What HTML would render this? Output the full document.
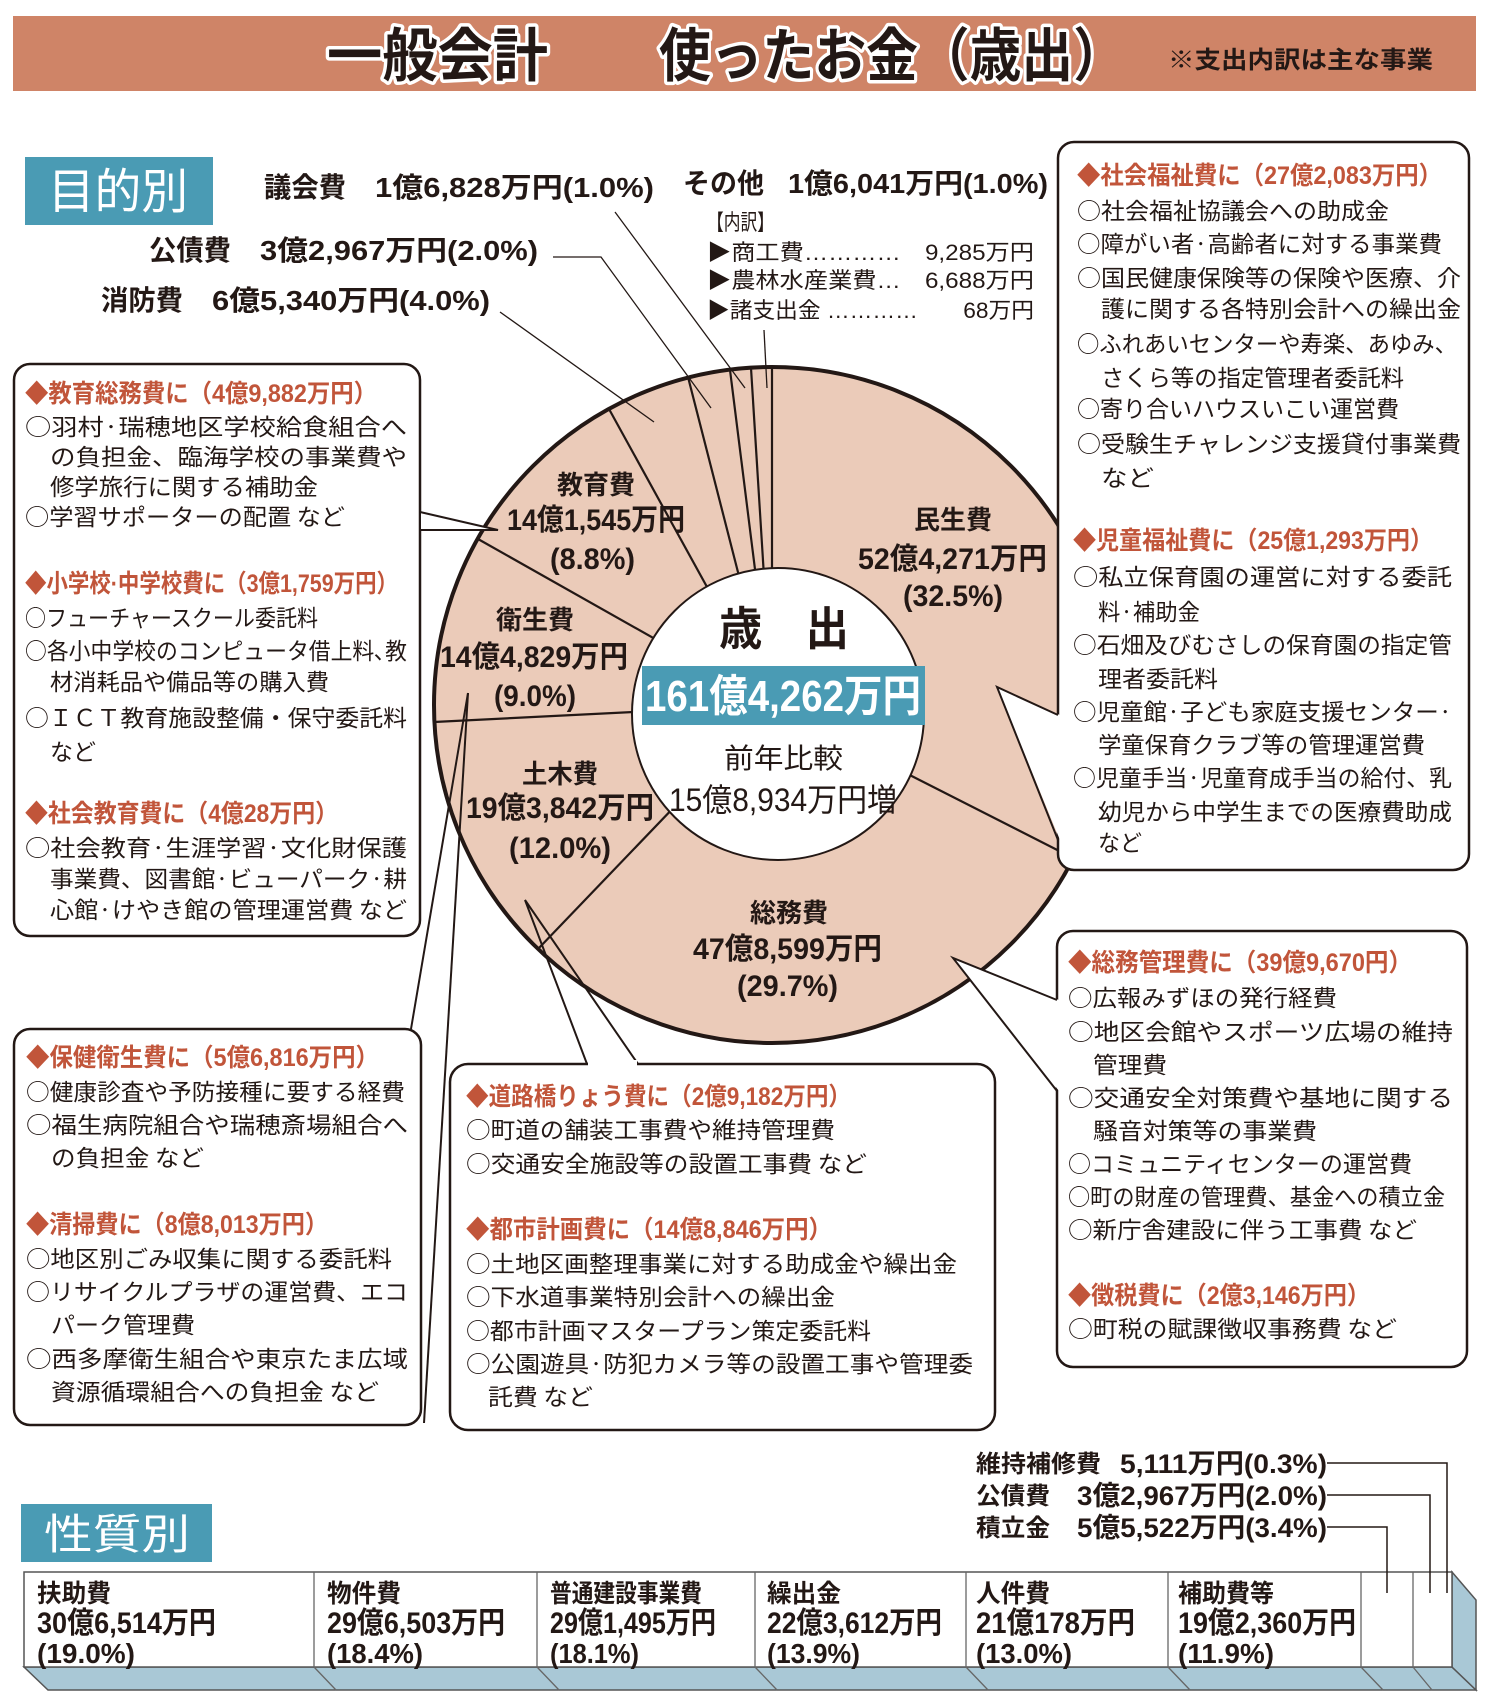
<!DOCTYPE html>
<html><head><meta charset="utf-8"><style>
html,body{margin:0;padding:0;background:#fff}
svg{display:block}
text{font-family:"Liberation Sans","Noto Sans CJK JP",sans-serif;fill:#231815}
.b{font-weight:bold}
.h{fill:#c1553a;font-weight:bold;font-size:25px}
.i,.i text{font-size:23px;font-family:"Noto Sans CJK JP","Liberation Sans",sans-serif}
.w{fill:#fff}
</style></head><body>
<svg width="1500" height="1698" viewBox="0 0 1500 1698" xmlns="http://www.w3.org/2000/svg">
<rect width="1500" height="1698" fill="#fff"/>
<rect x="13" y="16" width="1463" height="75" fill="#cf8467"/>
<g style="paint-order:stroke" stroke="#fff" stroke-width="7" stroke-linejoin="round">
<text x="327" y="76" font-size="58" class="b" textLength="221" lengthAdjust="spacingAndGlyphs">一般会計</text>
<text x="659" y="76" font-size="58" class="b" textLength="466" lengthAdjust="spacingAndGlyphs">使ったお金（歳出）</text>
</g>
<text x="1168" y="68" font-size="24" class="b" textLength="265" lengthAdjust="spacingAndGlyphs">※支出内訳は主な事業</text>

<rect x="25" y="157" width="188" height="68" fill="#4a9bb4"/>
<text x="48" y="208" font-size="48" class="w" textLength="140" lengthAdjust="spacingAndGlyphs">目的別</text>

<g class="b" font-size="28">
<text x="264" y="197" textLength="82" lengthAdjust="spacingAndGlyphs">議会費</text>
<text x="375" y="197" textLength="279" lengthAdjust="spacingAndGlyphs">1億6,828万円(1.0%)</text>
<text x="683" y="193" textLength="81" lengthAdjust="spacingAndGlyphs">その他</text>
<text x="788" y="193" textLength="260" lengthAdjust="spacingAndGlyphs">1億6,041万円(1.0%)</text>
<text x="149" y="260" textLength="82" lengthAdjust="spacingAndGlyphs">公債費</text>
<text x="260" y="260" textLength="278" lengthAdjust="spacingAndGlyphs">3億2,967万円(2.0%)</text>
<text x="101" y="310" textLength="82" lengthAdjust="spacingAndGlyphs">消防費</text>
<text x="212" y="310" textLength="278" lengthAdjust="spacingAndGlyphs">6億5,340万円(4.0%)</text>
</g>
<g font-size="22">
<text x="707" y="230" textLength="67" lengthAdjust="spacingAndGlyphs">【内訳】</text>
<text x="707" y="260" textLength="327" lengthAdjust="spacingAndGlyphs">▶商工費…………　9,285万円</text>
<text x="707" y="288" textLength="327" lengthAdjust="spacingAndGlyphs">▶農林水産業費…　6,688万円</text>
<text x="707" y="318" textLength="327" lengthAdjust="spacingAndGlyphs">▶諸支出金 …………　　68万円</text>
</g>

<circle cx="772" cy="705" r="338" fill="#ebcbb9" stroke="#231815" stroke-width="4"/>
<g stroke="#231815" stroke-width="2.2">
<line x1="772" y1="705" x2="772" y2="367"/>
<line x1="772" y1="705" x2="1073" y2="858"/>
<line x1="772" y1="705" x2="538" y2="949"/>
<line x1="772" y1="705" x2="434" y2="722"/>
<line x1="772" y1="705" x2="478" y2="539"/>
<line x1="772" y1="705" x2="609" y2="409"/>
<line x1="772" y1="705" x2="688" y2="377"/>
<line x1="772" y1="705" x2="730" y2="370"/>
<line x1="772" y1="705" x2="751" y2="368"/>
</g>
<g stroke="#231815" stroke-width="1.3" fill="none">
<polyline points="500,312 654,422"/>
<polyline points="553,257 601,257 711,408"/>
<polyline points="615,212 745,388"/>
<polyline points="764,330 767,388"/>
</g>
<circle cx="778" cy="714" r="146" fill="#fff" stroke="#231815" stroke-width="2"/>
<text x="719" y="645" font-size="46" class="b" textLength="130" lengthAdjust="spacingAndGlyphs">歳　出</text>
<rect x="642" y="666" width="283" height="59" fill="#4a9bb4"/>
<text x="645" y="711" font-size="44" class="b w" textLength="276" lengthAdjust="spacingAndGlyphs">161億4,262万円</text>
<text x="724" y="768" font-size="28" textLength="119" lengthAdjust="spacingAndGlyphs">前年比較</text>
<text x="669" y="811" font-size="32" textLength="228" lengthAdjust="spacingAndGlyphs">15億8,934万円増</text>

<g class="b">
<text x="557" y="494" font-size="26" textLength="78" lengthAdjust="spacingAndGlyphs">教育費</text>
<text x="507" y="530" font-size="30" textLength="178" lengthAdjust="spacingAndGlyphs">14億1,545万円</text>
<text x="550" y="569" font-size="30" textLength="85" lengthAdjust="spacingAndGlyphs">(8.8%)</text>
<text x="496" y="629" font-size="26" textLength="78" lengthAdjust="spacingAndGlyphs">衛生費</text>
<text x="440" y="667" font-size="30" textLength="188" lengthAdjust="spacingAndGlyphs">14億4,829万円</text>
<text x="494" y="706" font-size="30" textLength="82" lengthAdjust="spacingAndGlyphs">(9.0%)</text>
<text x="522" y="783" font-size="26" textLength="76" lengthAdjust="spacingAndGlyphs">土木費</text>
<text x="466" y="818" font-size="30" textLength="188" lengthAdjust="spacingAndGlyphs">19億3,842万円</text>
<text x="509" y="858" font-size="30" textLength="102" lengthAdjust="spacingAndGlyphs">(12.0%)</text>
<text x="914" y="529" font-size="26" textLength="78" lengthAdjust="spacingAndGlyphs">民生費</text>
<text x="858" y="569" font-size="30" textLength="189" lengthAdjust="spacingAndGlyphs">52億4,271万円</text>
<text x="903" y="606" font-size="30" textLength="100" lengthAdjust="spacingAndGlyphs">(32.5%)</text>
<text x="750" y="922" font-size="26" textLength="78" lengthAdjust="spacingAndGlyphs">総務費</text>
<text x="693" y="959" font-size="30" textLength="189" lengthAdjust="spacingAndGlyphs">47億8,599万円</text>
<text x="737" y="996" font-size="30" textLength="101" lengthAdjust="spacingAndGlyphs">(29.7%)</text>
</g>

<g fill="#fff" stroke="#231815" stroke-width="2.5">
<rect x="14" y="364" width="406" height="572" rx="16"/>
<rect x="14" y="1029" width="407" height="396" rx="16"/>
<rect x="450" y="1064" width="545" height="366" rx="18"/>
<rect x="1058" y="142" width="411" height="728" rx="16"/>
<rect x="1057" y="931" width="410" height="436" rx="16"/>
</g>
<polygon points="421,512 498,530 421,530" fill="#fff"/>
<polyline points="420,512 498,530 420,530" stroke="#231815" stroke-width="2" fill="none"/>
<polygon points="1060,715 997,687 1060,840" fill="#fff"/>
<polyline points="1058,715 997,687 1058,840" stroke="#231815" stroke-width="2" fill="none"/>
<polygon points="1059,1000 953,958 1059,1091" fill="#fff"/>
<polyline points="1057,1000 953,958 1057,1091" stroke="#231815" stroke-width="2" fill="none"/>
<g stroke="#231815" stroke-width="2" fill="none">
<polyline points="468,693 411,1029"/>
<polyline points="468,693 424,1423"/>
<polyline points="587,1064 525,900 638,1064"/>
</g>
<rect x="588" y="1060" width="49" height="6" fill="#fff"/>

<text class="h" x="25" y="402" textLength="352" lengthAdjust="spacingAndGlyphs">◆教育総務費に（4億9,882万円）</text>
<g class="i">
<text x="25" y="435" textLength="382" lengthAdjust="spacingAndGlyphs">○羽村·瑞穂地区学校給食組合へ</text>
<text x="50" y="465" textLength="357" lengthAdjust="spacingAndGlyphs">の負担金、臨海学校の事業費や</text>
<text x="50" y="495" textLength="268" lengthAdjust="spacingAndGlyphs">修学旅行に関する補助金</text>
<text x="25" y="525" textLength="320" lengthAdjust="spacingAndGlyphs">○学習サポーターの配置 など</text>
</g>
<text class="h" x="25" y="592" textLength="373" lengthAdjust="spacingAndGlyphs">◆小学校·中学校費に（3億1,759万円）</text>
<g class="i">
<text x="25" y="626" textLength="293" lengthAdjust="spacingAndGlyphs">○フューチャースクール委託料</text>
<text x="25" y="659" textLength="382" lengthAdjust="spacingAndGlyphs">○各小中学校のコンピュータ借上料､教</text>
<text x="50" y="690" textLength="279" lengthAdjust="spacingAndGlyphs">材消耗品や備品等の購入費</text>
<text x="25" y="726" textLength="382" lengthAdjust="spacingAndGlyphs">○ＩＣＴ教育施設整備・保守委託料</text>
<text x="50" y="760" textLength="46" lengthAdjust="spacingAndGlyphs">など</text>
</g>
<text class="h" x="25" y="822" textLength="313" lengthAdjust="spacingAndGlyphs">◆社会教育費に（4億28万円）</text>
<g class="i">
<text x="25" y="856" textLength="382" lengthAdjust="spacingAndGlyphs">○社会教育·生涯学習·文化財保護</text>
<text x="50" y="887" textLength="357" lengthAdjust="spacingAndGlyphs">事業費、図書館·ビューパーク·耕</text>
<text x="50" y="918" textLength="357" lengthAdjust="spacingAndGlyphs">心館·けやき館の管理運営費 など</text>
</g>

<text class="h" x="26" y="1066" textLength="353" lengthAdjust="spacingAndGlyphs">◆保健衛生費に（5億6,816万円）</text>
<g class="i">
<text x="26" y="1100" textLength="379" lengthAdjust="spacingAndGlyphs">○健康診査や予防接種に要する経費</text>
<text x="26" y="1133" textLength="382" lengthAdjust="spacingAndGlyphs">○福生病院組合や瑞穂斎場組合へ</text>
<text x="51" y="1166" textLength="153" lengthAdjust="spacingAndGlyphs">の負担金 など</text>
</g>
<text class="h" x="26" y="1233" textLength="302" lengthAdjust="spacingAndGlyphs">◆清掃費に（8億8,013万円）</text>
<g class="i">
<text x="26" y="1267" textLength="366" lengthAdjust="spacingAndGlyphs">○地区別ごみ収集に関する委託料</text>
<text x="26" y="1300" textLength="382" lengthAdjust="spacingAndGlyphs">○リサイクルプラザの運営費、エコ</text>
<text x="51" y="1333" textLength="144" lengthAdjust="spacingAndGlyphs">パーク管理費</text>
<text x="26" y="1367" textLength="382" lengthAdjust="spacingAndGlyphs">○西多摩衛生組合や東京たま広域</text>
<text x="51" y="1400" textLength="328" lengthAdjust="spacingAndGlyphs">資源循環組合への負担金 など</text>
</g>

<text class="h" x="466" y="1105" textLength="385" lengthAdjust="spacingAndGlyphs">◆道路橋りょう費に（2億9,182万円）</text>
<g class="i">
<text x="466" y="1138" textLength="369" lengthAdjust="spacingAndGlyphs">○町道の舗装工事費や維持管理費</text>
<text x="466" y="1172" textLength="401" lengthAdjust="spacingAndGlyphs">○交通安全施設等の設置工事費 など</text>
</g>
<text class="h" x="466" y="1238" textLength="366" lengthAdjust="spacingAndGlyphs">◆都市計画費に（14億8,846万円）</text>
<g class="i">
<text x="466" y="1272" textLength="491" lengthAdjust="spacingAndGlyphs">○土地区画整理事業に対する助成金や繰出金</text>
<text x="466" y="1305" textLength="369" lengthAdjust="spacingAndGlyphs">○下水道事業特別会計への繰出金</text>
<text x="466" y="1339" textLength="405" lengthAdjust="spacingAndGlyphs">○都市計画マスタープラン策定委託料</text>
<text x="466" y="1372" textLength="507" lengthAdjust="spacingAndGlyphs">○公園遊具·防犯カメラ等の設置工事や管理委</text>
<text x="488" y="1405" textLength="105" lengthAdjust="spacingAndGlyphs">託費 など</text>
</g>

<text class="h" x="1077" y="184" textLength="365" lengthAdjust="spacingAndGlyphs">◆社会福祉費に（27億2,083万円）</text>
<g class="i">
<text x="1077" y="219" textLength="312" lengthAdjust="spacingAndGlyphs">○社会福祉協議会への助成金</text>
<text x="1077" y="252" textLength="365" lengthAdjust="spacingAndGlyphs">○障がい者·高齢者に対する事業費</text>
<text x="1077" y="286" textLength="384" lengthAdjust="spacingAndGlyphs">○国民健康保険等の保険や医療、介</text>
<text x="1101" y="317" textLength="360" lengthAdjust="spacingAndGlyphs">護に関する各特別会計への繰出金</text>
<text x="1077" y="352" textLength="380" lengthAdjust="spacingAndGlyphs">○ふれあいセンターや寿楽、あゆみ、</text>
<text x="1101" y="386" textLength="303" lengthAdjust="spacingAndGlyphs">さくら等の指定管理者委託料</text>
<text x="1077" y="417" textLength="322" lengthAdjust="spacingAndGlyphs">○寄り合いハウスいこい運営費</text>
<text x="1077" y="452" textLength="384" lengthAdjust="spacingAndGlyphs">○受験生チャレンジ支援貸付事業費</text>
<text x="1101" y="486" textLength="53" lengthAdjust="spacingAndGlyphs">など</text>
</g>
<text class="h" x="1073" y="549" textLength="360" lengthAdjust="spacingAndGlyphs">◆児童福祉費に（25億1,293万円）</text>
<g class="i">
<text x="1073" y="585" textLength="379" lengthAdjust="spacingAndGlyphs">○私立保育園の運営に対する委託</text>
<text x="1098" y="620" textLength="102" lengthAdjust="spacingAndGlyphs">料·補助金</text>
<text x="1073" y="653" textLength="379" lengthAdjust="spacingAndGlyphs">○石畑及びむさしの保育園の指定管</text>
<text x="1098" y="687" textLength="120" lengthAdjust="spacingAndGlyphs">理者委託料</text>
<text x="1073" y="720" textLength="379" lengthAdjust="spacingAndGlyphs">○児童館·子ども家庭支援センター·</text>
<text x="1098" y="753" textLength="327" lengthAdjust="spacingAndGlyphs">学童保育クラブ等の管理運営費</text>
<text x="1073" y="786" textLength="379" lengthAdjust="spacingAndGlyphs">○児童手当·児童育成手当の給付、乳</text>
<text x="1098" y="820" textLength="354" lengthAdjust="spacingAndGlyphs">幼児から中学生までの医療費助成</text>
<text x="1098" y="851" textLength="44" lengthAdjust="spacingAndGlyphs">など</text>
</g>

<text class="h" x="1068" y="971" textLength="344" lengthAdjust="spacingAndGlyphs">◆総務管理費に（39億9,670円）</text>
<g class="i">
<text x="1068" y="1006" textLength="269" lengthAdjust="spacingAndGlyphs">○広報みずほの発行経費</text>
<text x="1068" y="1040" textLength="385" lengthAdjust="spacingAndGlyphs">○地区会館やスポーツ広場の維持</text>
<text x="1093" y="1073" textLength="74" lengthAdjust="spacingAndGlyphs">管理費</text>
<text x="1068" y="1106" textLength="385" lengthAdjust="spacingAndGlyphs">○交通安全対策費や基地に関する</text>
<text x="1093" y="1139" textLength="224" lengthAdjust="spacingAndGlyphs">騒音対策等の事業費</text>
<text x="1068" y="1172" textLength="344" lengthAdjust="spacingAndGlyphs">○コミュニティセンターの運営費</text>
<text x="1068" y="1205" textLength="377" lengthAdjust="spacingAndGlyphs">○町の財産の管理費、基金への積立金</text>
<text x="1068" y="1238" textLength="349" lengthAdjust="spacingAndGlyphs">○新庁舎建設に伴う工事費 など</text>
</g>
<text class="h" x="1068" y="1304" textLength="302" lengthAdjust="spacingAndGlyphs">◆徴税費に（2億3,146万円）</text>
<text class="i" x="1068" y="1337" textLength="329" lengthAdjust="spacingAndGlyphs">○町税の賦課徴収事務費 など</text>

<rect x="21" y="1504" width="191" height="58" fill="#4a9bb4"/>
<text x="44" y="1549" font-size="42" class="w" textLength="146" lengthAdjust="spacingAndGlyphs">性質別</text>

<g class="b" font-size="24">
<text x="976" y="1472" textLength="125" lengthAdjust="spacingAndGlyphs">維持補修費</text>
<text x="1120" y="1473" font-size="27" textLength="207" lengthAdjust="spacingAndGlyphs">5,111万円(0.3%)</text>
<text x="976" y="1504" textLength="74" lengthAdjust="spacingAndGlyphs">公債費</text>
<text x="1077" y="1505" font-size="27" textLength="250" lengthAdjust="spacingAndGlyphs">3億2,967万円(2.0%)</text>
<text x="976" y="1536" textLength="74" lengthAdjust="spacingAndGlyphs">積立金</text>
<text x="1077" y="1537" font-size="27" textLength="250" lengthAdjust="spacingAndGlyphs">5億5,522万円(3.4%)</text>
</g>

<polygon points="24,1667 1452,1667 1476,1690 48,1690" fill="#a9c8d6" stroke="#555" stroke-width="1.5"/>
<polygon points="1452,1572 1476,1600 1476,1690 1452,1667" fill="#a9c8d6" stroke="#555" stroke-width="1.5"/>
<rect x="24" y="1572" width="1428" height="95" fill="#fff" stroke="#555" stroke-width="1.5"/>
<g stroke="#666" stroke-width="1.3">
<line x1="314" y1="1572" x2="314" y2="1667"/><line x1="314" y1="1667" x2="336" y2="1690"/>
<line x1="537" y1="1572" x2="537" y2="1667"/><line x1="537" y1="1667" x2="559" y2="1690"/>
<line x1="755" y1="1572" x2="755" y2="1667"/><line x1="755" y1="1667" x2="777" y2="1690"/>
<line x1="966" y1="1572" x2="966" y2="1667"/><line x1="966" y1="1667" x2="988" y2="1690"/>
<line x1="1168" y1="1572" x2="1168" y2="1667"/><line x1="1168" y1="1667" x2="1190" y2="1690"/>
<line x1="1361" y1="1572" x2="1361" y2="1667"/><line x1="1361" y1="1667" x2="1383" y2="1690"/>
<line x1="1413" y1="1572" x2="1413" y2="1667"/><line x1="1413" y1="1667" x2="1432" y2="1690"/>
</g>
<g stroke="#231815" stroke-width="1.5" fill="none">
<polyline points="1327,1463 1447,1463 1447,1593"/>
<polyline points="1327,1495 1430,1495 1430,1593"/>
<polyline points="1327,1527 1387,1527 1387,1593"/>
</g>
<g class="b">
<g font-size="25">
<text x="37" y="1602" textLength="74" lengthAdjust="spacingAndGlyphs">扶助費</text>
<text x="327" y="1602" textLength="74" lengthAdjust="spacingAndGlyphs">物件費</text>
<text x="550" y="1602" textLength="152" lengthAdjust="spacingAndGlyphs">普通建設事業費</text>
<text x="767" y="1602" textLength="74" lengthAdjust="spacingAndGlyphs">繰出金</text>
<text x="976" y="1602" textLength="74" lengthAdjust="spacingAndGlyphs">人件費</text>
<text x="1178" y="1602" textLength="96" lengthAdjust="spacingAndGlyphs">補助費等</text>
</g>
<g font-size="30">
<text x="37" y="1633" textLength="179" lengthAdjust="spacingAndGlyphs">30億6,514万円</text>
<text x="327" y="1633" textLength="178" lengthAdjust="spacingAndGlyphs">29億6,503万円</text>
<text x="550" y="1633" textLength="166" lengthAdjust="spacingAndGlyphs">29億1,495万円</text>
<text x="767" y="1633" textLength="175" lengthAdjust="spacingAndGlyphs">22億3,612万円</text>
<text x="976" y="1633" textLength="159" lengthAdjust="spacingAndGlyphs">21億178万円</text>
<text x="1178" y="1633" textLength="178" lengthAdjust="spacingAndGlyphs">19億2,360万円</text>
</g>
<g font-size="28">
<text x="37" y="1663" textLength="98" lengthAdjust="spacingAndGlyphs">(19.0%)</text>
<text x="327" y="1663" textLength="96" lengthAdjust="spacingAndGlyphs">(18.4%)</text>
<text x="550" y="1663" textLength="89" lengthAdjust="spacingAndGlyphs">(18.1%)</text>
<text x="767" y="1663" textLength="93" lengthAdjust="spacingAndGlyphs">(13.9%)</text>
<text x="976" y="1663" textLength="96" lengthAdjust="spacingAndGlyphs">(13.0%)</text>
<text x="1178" y="1663" textLength="96" lengthAdjust="spacingAndGlyphs">(11.9%)</text>
</g>
</g>
</svg>
</body></html>
